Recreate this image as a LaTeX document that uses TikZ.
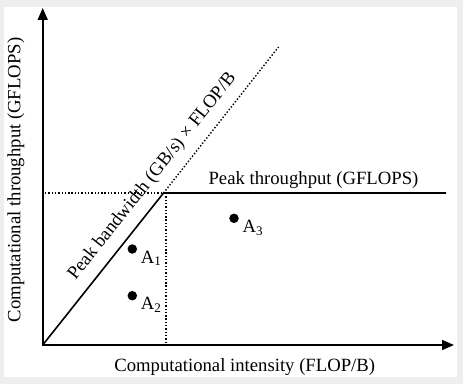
\documentclass[tikz,border=0pt]{standalone}
\usepackage{fontspec}
\setmainfont{Liberation Serif}
\usetikzlibrary{arrows.meta,positioning}
\definecolor{framegray}{RGB}{238,238,238}
\begin{document}
\begin{tikzpicture}[x=1pt, y=1pt,
  every node/.style={font=\fontsize{18.7}{22}\selectfont, inner sep=0pt, text=black},
  axisline/.style={line width=1.7pt, {Triangle[length=12pt,width=10pt]}-{Triangle[length=12pt,width=10pt]}},
  roofline/.style={line width=1.6pt},
  guideline/.style={line width=1.4pt, dash pattern=on 1.4pt off 1.9pt},
  dot/.style={circle, fill=black, minimum size=9.5pt}
]
  % frame
  \fill[framegray] (0,0) rectangle (463,384);
  \fill[white] (4,7) rectangle (457,377);
  \useasboundingbox (0,0) rectangle (463,384);

  % axes
  \coordinate (o) at (42.7,39);
  \coordinate (xend) at (454,39);
  \coordinate (yend) at (42.7,376);
  \draw[axisline] (yend) -- (o) -- (xend);

  % roofline
  \coordinate (knee) at (163.5,191);
  \coordinate (roofend) at (446,191);
  \coordinate (slopeend) at (278.5,337);
  \draw[roofline] (o) -- (knee) -- (roofend);
  \draw[guideline] (knee) -- (slopeend);

  % guides to the axes
  \coordinate (ytick) at (45,191);
  \coordinate (kneetop) at (166,191);
  \coordinate (xtick) at (166,41);
  \draw[guideline] (ytick) -- (knee);
  \draw[guideline] (kneetop) -- (xtick);

  % applications
  \node[dot] (a1) at (132.3,135) {};
  \node[dot] (a2) at (132.3,88.3) {};
  \node[dot] (a3) at (234,165.7) {};
  \node[anchor=north west, below right=1.5pt and 3.5pt of a1.east] (l1) {A\textsubscript{1}};
  \node[anchor=north west, below right=1.5pt and 3.5pt of a2.east] (l2) {A\textsubscript{2}};
  \node[anchor=north west, below right=1.5pt and 3.5pt of a3.east] (l3) {A\textsubscript{3}};

  % labels
  \node[anchor=base] (peak) at (313.5,200) {Peak throughput (GFLOPS)};
  \node[anchor=base, rotate=51.6] (bw) at (156,204.5) {Peak bandwidth (GB/s) × FLOP/B};
  \node[anchor=base] (xlab) at (244.7,12.5) {Computational intensity (FLOP/B)};
  \node[anchor=base, rotate=90] (ylab) at (20.5,204) {Computational throughput (GFLOPS)};
\end{tikzpicture}
\end{document}
